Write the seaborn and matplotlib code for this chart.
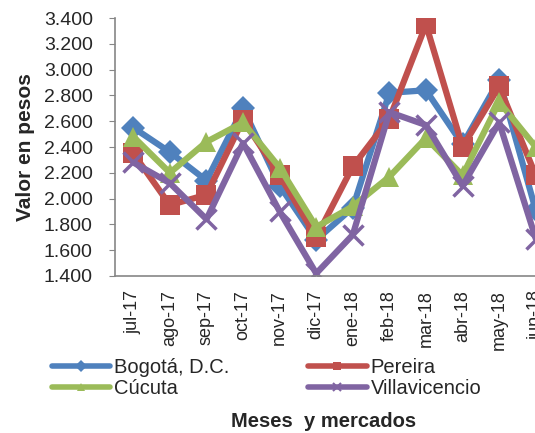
import numpy as np
import pandas as pd
import matplotlib
matplotlib.use("Agg")
import matplotlib.pyplot as plt
from matplotlib.lines import Line2D
from matplotlib.ticker import FuncFormatter
import seaborn as sns

sns.set_style("white")
plt.rcParams["font.family"] = ["Liberation Sans", "DejaVu Sans"]

# datos
meses = ["jul-17", "ago-17", "sep-17", "oct-17", "nov-17", "dic-17",
         "ene-18", "feb-18", "mar-18", "abr-18", "may-18", "jun-18"]
bogota = [2550, 2360, 2140, 2700, 2100, 1680, 1930, 2820, 2840, 2420, 2920, 1910]
pereira = [2350, 1950, 2030, 2610, 2180, 1700, 2250, 2620, 3350, 2400, 2870, 2180]
cucuta = [2480, 2200, 2440, 2590, 2240, 1780, 1940, 2170, 2470, 2180, 2750, 2400]
villavicencio = [2280, 2120, 1840, 2430, 1900, 1420, 1720, 2670, 2570, 2100, 2590, 1690]

series = {"Bogotá, D.C.": bogota, "Pereira": pereira,
          "Cúcuta": cucuta, "Villavicencio": villavicencio}
colores = {"Bogotá, D.C.": "#4F81BD", "Pereira": "#C0504D",
           "Cúcuta": "#9BBB59", "Villavicencio": "#8064A2"}
marcadores = {"Bogotá, D.C.": "D", "Pereira": "s",
              "Cúcuta": "^", "Villavicencio": "x"}
tamanos = {"Bogotá, D.C.": 12, "Pereira": 14, "Cúcuta": 14, "Villavicencio": 14}

df = pd.DataFrame([(m, i, k, v) for k, vals in series.items()
                   for i, (m, v) in enumerate(zip(meses, vals))],
                  columns=["mes", "pos", "mercado", "valor"])

fig = plt.figure(figsize=(5.35, 4.33), dpi=100)
ax = fig.add_axes([0.215, 0.3626, 0.8206, 0.5958])

for nombre in series:
    sub = df[df["mercado"] == nombre]
    sns.lineplot(data=sub, x="pos", y="valor", ax=ax, color=colores[nombre],
                 marker=marcadores[nombre], markersize=tamanos[nombre],
                 markeredgewidth=2.5 if nombre == "Villavicencio" else 0,
                 markeredgecolor=colores[nombre],
                 linewidth=4.5, sort=False, legend=False)

ax.set_xlim(-0.5, 11.5)
ax.set_ylim(1400, 3400)
ax.set_yticks(np.arange(1400, 3401, 200))
ax.yaxis.set_major_formatter(FuncFormatter(lambda v, p: f"{int(v):,}".replace(",", ".")))
ax.set_xticks(range(len(meses)))
ax.set_xticklabels(meses, rotation=90, fontsize=13)
ax.tick_params(axis="y", labelsize=14, length=4, color="#868686", pad=12, left=True)
ax.tick_params(axis="x", length=0, pad=10)

for s in ["top", "right"]:
    ax.spines[s].set_visible(False)
for s in ["left", "bottom"]:
    ax.spines[s].set_color("#868686")
    ax.spines[s].set_linewidth(1.2)

ax.set_ylabel("Valor en pesos", fontsize=15, fontweight="bold", labelpad=6)
ax.set_xlabel("")
fig.text(0.605, 0.005, "Meses  y mercados", fontsize=14.5, fontweight="bold",
         ha="center", va="bottom")

# leyenda: filas Bogotá/Pereira y Cúcuta/Villavicencio
orden = ["Bogotá, D.C.", "Cúcuta", "Pereira", "Villavicencio"]
handles = [Line2D([], [], color=colores[n], marker=marcadores[n], markersize=6,
                  markeredgewidth=1.5 if n == "Villavicencio" else 0,
                  markeredgecolor=colores[n], linewidth=4) for n in orden]
leg = ax.legend(handles, orden, ncol=2, loc="upper left",
                bbox_to_anchor=(0.078, 0.197), bbox_transform=fig.transFigure,
                frameon=False, fontsize=14.5, handlelength=2.9, handletextpad=0.2,
                columnspacing=3.9, labelspacing=0.1, borderpad=0)

fig.savefig("out.png", dpi=100)
